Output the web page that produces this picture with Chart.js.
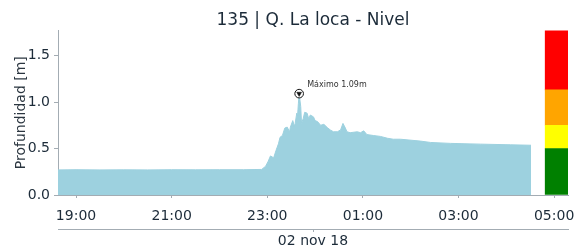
<!DOCTYPE html>
<html>
<head>
<meta charset="utf-8">
<script src="https://cdn.jsdelivr.net/npm/chart.js@4.4.0/dist/chart.umd.min.js"></script>
<style>
html, body { margin: 0; padding: 0; background: #fff; overflow: hidden; }
</style>
</head>
<body>
<canvas id="myChart" width="582" height="248"></canvas>
<script>
var chartTitle = '135 | Q. La loca - Nivel';
var yTitle = 'Profundidad [m]';
var dateLabel = '02 nov 18';

// readings (hour of day) and water level in metres
var times = ['18:37', '19:00', '19:30', '20:00', '20:30', '21:00', '21:30', '22:00', '22:30', '22:53',
    '22:58', '23:01', '23:04', '23:08', '23:11', '23:14', '23:16', '23:19', '23:22', '23:25',
    '23:28', '23:29', '23:32', '23:34', '23:35', '23:37', '23:38', '23:39', '23:40', '23:42',
    '23:43', '23:45', '23:47', '23:50', '23:52', '23:54', '23:58', '00:00', '00:03', '00:07',
    '00:11', '00:16', '00:19', '00:23', '00:28', '00:32', '00:35', '00:38', '00:40', '00:44',
    '00:53', '00:57', '01:01', '01:05', '01:13', '01:22', '01:31', '01:38', '01:47', '02:12',
    '02:25', '02:50', '03:28', '04:05', '04:31'];
var levels = [0.27, 0.272, 0.27, 0.271, 0.27, 0.272, 0.271, 0.272, 0.272, 0.275,
    0.31, 0.36, 0.42, 0.40, 0.48, 0.55, 0.62, 0.64, 0.72, 0.73,
    0.68, 0.73, 0.80, 0.74, 0.77, 0.88, 0.85, 0.98, 1.09, 0.95,
    0.77, 0.82, 0.89, 0.88, 0.82, 0.86, 0.84, 0.80, 0.79, 0.75,
    0.76, 0.72, 0.70, 0.68, 0.68, 0.70, 0.77, 0.72, 0.68, 0.67,
    0.68, 0.67, 0.69, 0.65, 0.64, 0.63, 0.61, 0.60, 0.60, 0.58,
    0.565, 0.555, 0.547, 0.54, 0.535];

// alert bands [m] (green, yellow, orange, red)
var bandLimits = [0, 0.5, 0.75, 1.13, 1.77];
var bandColors = ['#008000', '#ffff00', '#ffa500', '#ff0000'];
var bandTime = '04:59';

var tickLabels = ['19:00', '21:00', '23:00', '01:00', '03:00', '05:00'];
var yTicks = [0, 0.5, 1.0, 1.5];

// hours counted from 19:00
function toHours(s) {
    var p = s.split(':');
    var h = parseInt(p[0]) + parseInt(p[1]) / 60;
    if (h < 12) h += 24;
    return h - 19;
}

var points = times.map(function (t, i) {
    return {x: toHours(t), y: levels[i]};
});
var maxVal = Math.max.apply(null, levels);
var maxIdx = levels.indexOf(maxVal);
var maxPoint = [{x: toHours(times[maxIdx]), y: maxVal}];

var datasets = [];
// marker for the maximum (triangle on top of the circle)
datasets.push({
    type: 'line', data: maxPoint, showLine: false,
    pointStyle: 'triangle', pointRadius: 2.8, pointRotation: 180,
    pointBackgroundColor: '#111', pointBorderColor: '#111', pointBorderWidth: 0.5
});
datasets.push({
    type: 'line', data: maxPoint, showLine: false,
    pointStyle: 'circle', pointRadius: 4.3, pointBackgroundColor: '#fff',
    pointBorderColor: '#111', pointBorderWidth: 1
});
datasets.push({
    type: 'line',
    data: points,
    borderColor: '#9dd1df',
    borderWidth: 1,
    backgroundColor: '#9dd1df',
    fill: 'origin',
    pointRadius: 0,
    tension: 0
});
for (var i = 0; i < bandColors.length; i++) {
    datasets.push({
        type: 'bar',
        data: [{x: toHours(bandTime) + 0.07, y: [bandLimits[i], bandLimits[i + 1]]}],
        backgroundColor: bandColors[i],
        barThickness: 23,
        grouped: false
    });
}

var maxLabel = {
    id: 'maxLabel',
    afterDatasetsDraw: function (chart) {
        var p = chart.getDatasetMeta(0).data[0];
        var ctx = chart.ctx;
        ctx.save();
        ctx.font = '8px "DejaVu Sans"';
        ctx.fillStyle = '#333';
        ctx.textBaseline = 'middle';
        ctx.fillText('Máximo ' + maxVal.toFixed(2) + 'm', p.x + 8, p.y - 9);
        ctx.restore();
    }
};

var axisGray = '#a3acb3';
var textDark = '#1c2b39';
var xMin = -0.377, xMax = 10.29;

Chart.defaults.font.family = '"DejaVu Sans"';

var myChart = new Chart(document.getElementById('myChart').getContext('2d'), {
    type: 'line',
    data: {datasets: datasets},
    plugins: [maxLabel],
    options: {
        responsive: false,
        animation: false,
        layout: {padding: {top: 0, right: 14, bottom: 0, left: 0}},
        plugins: {
            legend: {display: false},
            tooltip: {enabled: false},
            title: {
                display: true,
                text: chartTitle,
                fullSize: false,
                color: textDark,
                font: {size: 17, weight: 'normal'},
                padding: {top: 10, bottom: 0}
            }
        },
        scales: {
            x: {
                type: 'linear',
                min: xMin,
                max: xMax,
                offset: false,
                grid: {display: true, drawOnChartArea: false, offset: false, tickLength: 3, color: axisGray},
                border: {display: true, color: axisGray},
                afterBuildTicks: function (scale) {
                    scale.ticks = tickLabels.map(function (l, i) { return {value: i * 2}; });
                },
                afterFit: function (scale) {
                    scale.height = 34;
                    scale.paddingLeft = 0;
                    scale.paddingRight = 0;
                },
                ticks: {
                    autoSkip: false, maxRotation: 0, padding: 10,
                    color: textDark, font: {size: 14},
                    callback: function (v, i) { return tickLabels[i]; }
                }
            },
            x2: {
                type: 'linear',
                axis: 'x',
                position: 'bottom',
                min: xMin,
                max: xMax,
                grid: {display: true, drawOnChartArea: false, tickLength: 3, color: axisGray},
                border: {display: true, color: axisGray},
                afterBuildTicks: function (scale) {
                    scale.ticks = [{value: (xMin + xMax) / 2}];
                },
                afterFit: function (scale) {
                    scale.height = 19;
                    scale.paddingLeft = 0;
                    scale.paddingRight = 0;
                },
                ticks: {display: false},
                title: {display: true, text: dateLabel, color: textDark, font: {size: 14, lineHeight: 1}, padding: {top: 0, bottom: 0}}
            },
            y: {
                min: 0,
                max: bandLimits[bandLimits.length - 1],
                grid: {display: true, drawOnChartArea: false, tickLength: 4, color: axisGray},
                border: {display: true, color: axisGray},
                afterBuildTicks: function (scale) {
                    scale.ticks = yTicks.map(function (v) { return {value: v}; });
                },
                afterFit: function (scale) { scale.width = 58; },
                ticks: {
                    padding: 4, color: textDark, font: {size: 14},
                    callback: function (v) { return v.toFixed(1); }
                },
                title: {display: true, text: yTitle, color: '#2b3640', font: {size: 14}, padding: {top: 12.5, bottom: 0}}
            }
        }
    }
});
</script>
</body>
</html>
